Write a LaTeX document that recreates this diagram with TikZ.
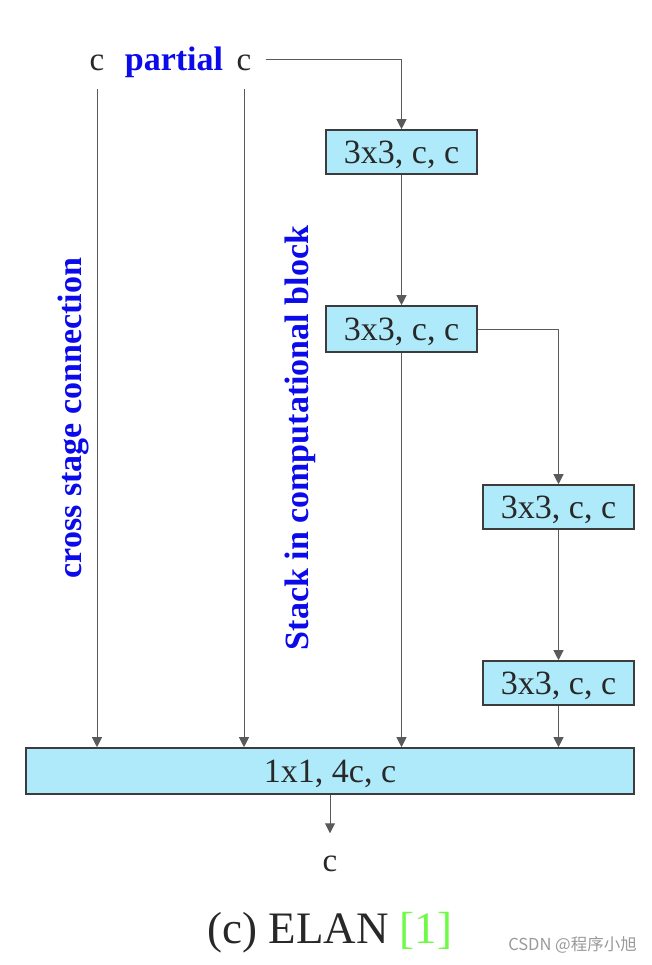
\documentclass[tikz,border=0pt]{standalone}
\usepackage{fontspec}
\setmainfont{Liberation Serif}
\newfontfamily\cjk{Noto Sans CJK SC}
\usetikzlibrary{arrows.meta}
\definecolor{boxfill}{RGB}{174,234,250}
\definecolor{boxdraw}{RGB}{60,60,60}
\definecolor{linegray}{RGB}{90,90,90}
\definecolor{txt}{RGB}{40,40,40}
\definecolor{lblue}{RGB}{10,10,235}
\definecolor{refgreen}{RGB}{110,250,70}
\tikzset{
  blk/.style={draw=boxdraw, line width=1.6pt, fill=boxfill, minimum width=151pt, minimum height=44pt, inner sep=0pt,
    text=txt, font=\fontsize{34}{34}\selectfont, text height=22.5pt, text depth=0pt},
  lbl/.style={text=txt, font=\fontsize{33}{33}\selectfont, inner sep=0pt},
  bluelbl/.style={text=lblue, font=\fontsize{34}{34}\selectfont\bfseries, inner sep=0pt},
  arr/.style={draw=linegray, line width=1pt, -{Triangle[width=10pt,length=10pt]}},
  ln/.style={draw=linegray, line width=1pt}
}
\begin{document}
\begin{tikzpicture}[x=1pt,y=-1pt]
\useasboundingbox (0,0) rectangle (651,965);
% top labels
\node[lbl, anchor=base] (c1) at (97,71) {c};
\node[bluelbl, anchor=base] (partial) at (174,71) {partial};
\node[lbl, anchor=base] (c2) at (244,71) {c};
% boxes
\node[blk] (b1) at (401.5,152) {3x3, c, c};
\node[blk, minimum height=46pt] (b2) at (401.5,329) {3x3, c, c};
\node[blk] (b3) at (558.5,507) {3x3, c, c};
\node[blk] (b4) at (558.5,683) {3x3, c, c};
\node[blk, minimum width=608pt, minimum height=46pt] (big) at (330,771) {1x1, 4c, c};
% rotated labels
\node[bluelbl, rotate=90] (csc) at (73,418) {cross stage connection};
\node[bluelbl, rotate=90] (sicb) at (300,438) {Stack in computational block};
% output
\node[lbl, anchor=base] (cout) at (330,871) {c};
\node[text=txt, font=\fontsize{45}{45}\selectfont, inner sep=0pt, anchor=base] (cap) at (330,943) {(c) ELAN \textcolor{refgreen}{[1]}};
\node[text=gray!80, font=\cjk\fontsize{16.5}{16.5}\selectfont, inner sep=0pt, anchor=east] (wm) at (637,945) {CSDN @程序小旭};
% connectors
\draw[arr] ([yshift=-17pt]c1.south) -- (c1 |- big.north);
\draw[arr] ([yshift=-17pt]c2.south) -- (c2 |- big.north);
\draw[arr] ([xshift=14pt,yshift=4pt]c2.east) -| (b1.north);
\draw[arr] (b1.south) -- (b2.north);
\draw[arr] (b2.east) -| (b3.north);
\draw[arr] (b3.south) -- (b4.north);
\draw[arr] (b4.south) -- (b4 |- big.north);
\draw[arr] (b2.south) -- (b2 |- big.north);
\draw[arr] (big.south) -- ([yshift=22pt]cout.north);
\end{tikzpicture}
\end{document}
